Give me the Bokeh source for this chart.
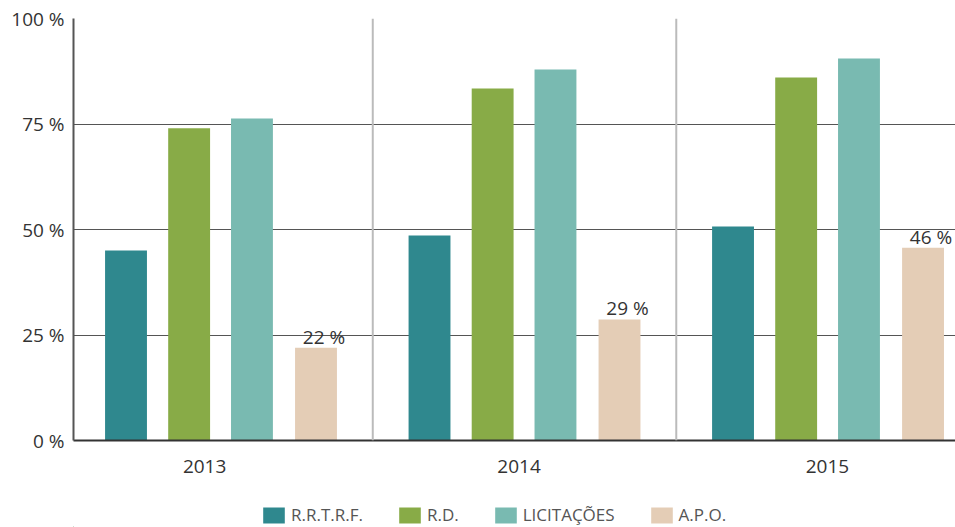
import numpy as np
from bokeh.plotting import figure
from bokeh.layouts import column
from bokeh.models import (ColumnDataSource, FixedTicker, Span, Legend, LegendItem, Range1d)
from bokeh.core.properties import value
from bokeh.embed import file_html
from bokeh.resources import INLINE

# ---- data ----
years = ["2013", "2014", "2015"]
series = ["R.R.T.R.F.", "R.D.", "LICITAÇÕES", "A.P.O."]
rrtrf = [45.0, 48.6, 50.7]
rd = [74.0, 83.4, 86.0]
licitacoes = [76.3, 87.9, 90.5]
apo = [22.0, 28.7, 45.7]
apo_labels = ["22 %", "29 %", "46 %"]
y_ticks = [0, 25, 50, 75, 100]
y_tick_labels = ["0 %", "25 %", "50 %", "75 %", "100 %"]
colors = ["#2f888e", "#88ab47", "#79bab1", "#e4cdb6"]

FONT = "Open Sans"
idx = np.arange(len(years))
centers = idx + 0.5
offsets = [-0.313, -0.105, 0.102, 0.313]
label_shift = [-0.054, -0.018, -0.002]
bar_w = 0.138

p = figure(width=955, height=487,
           min_border_left=73, min_border_right=0, min_border_top=18, min_border_bottom=47,
           x_range=Range1d(0.014, 2.920), y_range=Range1d(0, 100),
           output_backend="svg", toolbar_location=None)
p.outline_line_color = None
p.background_fill_color = "white"
p.border_fill_color = "white"

renderers = []
for vals, off, col in zip([rrtrf, rd, licitacoes, apo], offsets, colors):
    src = ColumnDataSource(dict(x=centers + off, top=vals))
    r = p.vbar(x="x", top="top", width=bar_w, source=src, fill_color=col, line_color=None)
    renderers.append(r)

lbl_src = ColumnDataSource(dict(x=centers + offsets[3], y=apo, t=apo_labels))
p.text(x="x", y="y", text="t", source=lbl_src, x_offset=8, y_offset=-11,
       text_align="center", text_baseline="alphabetic",
       text_font=value(FONT), text_font_size="19px", text_color="#333333")

for s in [1, 2]:
    p.add_layout(Span(location=s, dimension="height", line_color="#bbbbbb", line_width=2))

# grid
p.xgrid.visible = False
p.ygrid.ticker = FixedTicker(ticks=y_ticks[1:])
p.ygrid.grid_line_color = "#555555"
p.ygrid.grid_line_width = 1

# axes
tick_pos = [float(c + s) for c, s in zip(centers, label_shift)]
p.xaxis.ticker = FixedTicker(ticks=tick_pos)
p.xaxis.major_label_overrides = {t: y for t, y in zip(tick_pos, years)}
p.xaxis.axis_line_color = "#333333"
p.xaxis.axis_line_width = 2
p.xaxis.major_tick_line_color = None
p.xaxis.minor_tick_line_color = None
p.xaxis.major_label_standoff = 13
p.xaxis.major_label_text_font = FONT
p.xaxis.major_label_text_font_size = "19px"
p.xaxis.major_label_text_color = "#333333"

p.yaxis.ticker = FixedTicker(ticks=y_ticks)
p.yaxis.major_label_overrides = {t: l for t, l in zip(y_ticks, y_tick_labels)}
p.yaxis.axis_line_color = "#555555"
p.yaxis.axis_line_width = 2
p.yaxis.major_tick_in = 0
p.yaxis.major_tick_out = 0
p.yaxis.minor_tick_line_color = None
p.yaxis.major_label_standoff = 9
p.yaxis.major_label_text_font = FONT
p.yaxis.major_label_text_font_size = "19px"
p.yaxis.major_label_text_color = "#333333"

# legend strip (separate figure below the chart; its frame is aligned with the chart's)
p2 = figure(width=955, height=40, x_range=Range1d(0, 882), y_range=Range1d(0, 40),
            min_border=0, x_axis_location=None, y_axis_location=None,
            output_backend="svg", toolbar_location=None)
p2.outline_line_color = None
p2.xgrid.visible = False
p2.ygrid.visible = False
p2.border_fill_color = "white"
dummies = [p2.vbar(x=[-5000], top=[1], width=1, fill_color=c, line_color=None) for c in colors]

legend = Legend(items=[LegendItem(label=s, renderers=[r]) for s, r in zip(series, dummies)],
                orientation="horizontal", location=(187, 1),
                glyph_width=27, glyph_height=20, label_standoff=4, spacing=33,
                label_text_font=FONT, label_text_font_size="17px", label_text_color="#555555",
                border_line_color=None, background_fill_alpha=0, padding=0, margin=0)
p2.add_layout(legend, "center")

open("out.html", "w").write(file_html(column(p, p2), INLINE))
